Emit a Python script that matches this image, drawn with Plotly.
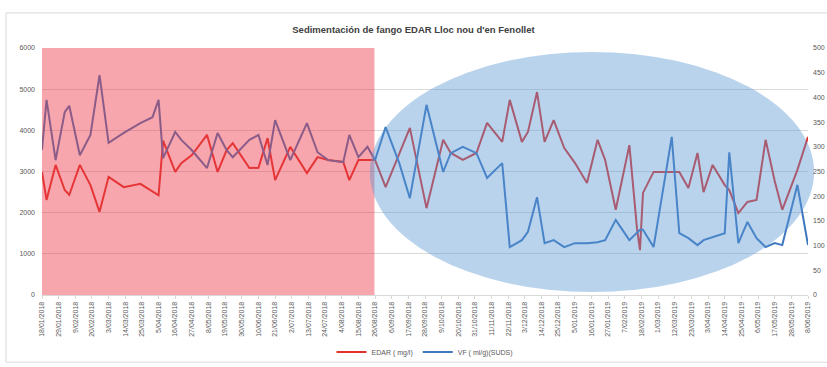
import plotly.graph_objects as go

# Sampling dates and measured series
dates = [
    "2018-01-18", "2018-01-21", "2018-01-27", "2018-02-02", "2018-02-05", "2018-02-12",
    "2018-02-19", "2018-02-25", "2018-03-03", "2018-03-13", "2018-03-24", "2018-04-01",
    "2018-04-05", "2018-04-08", "2018-04-16", "2018-04-20", "2018-04-27", "2018-05-07",
    "2018-05-14", "2018-05-20", "2018-05-24", "2018-06-04", "2018-06-10", "2018-06-16",
    "2018-06-21", "2018-07-01", "2018-07-12", "2018-07-19", "2018-07-26", "2018-08-05",
    "2018-08-09", "2018-08-15", "2018-08-21", "2018-08-26", "2018-09-02", "2018-09-11",
    "2018-09-18", "2018-09-29", "2018-10-10", "2018-10-15", "2018-10-23", "2018-11-01",
    "2018-11-08", "2018-11-18", "2018-11-23", "2018-12-01", "2018-12-05", "2018-12-11",
    "2018-12-16", "2018-12-22", "2018-12-29", "2019-01-05", "2019-01-13", "2019-01-20",
    "2019-01-25", "2019-02-01", "2019-02-10", "2019-02-15", "2019-02-17", "2019-02-19",
    "2019-02-26", "2019-03-10", "2019-03-15", "2019-03-21", "2019-03-27", "2019-03-31",
    "2019-04-06", "2019-04-14", "2019-04-17", "2019-04-23", "2019-04-29", "2019-05-05",
    "2019-05-11", "2019-05-17", "2019-05-22", "2019-06-01", "2019-06-08",
]

edar_mgl = [
    2990, 2310, 3160, 2550, 2430, 3160, 2670, 2020, 2870, 2620, 2700, 2500,
    2420, 3750, 2990, 3200, 3400, 3890, 2990, 3520, 3690, 3085, 3090, 3810,
    2790, 3600, 2960, 3350, 3280, 3230, 2790, 3280, 3280, 3280, 2620, 3450,
    4060, 2110, 3770, 3450, 3280, 3450, 4180, 3720, 4740, 3720, 3960, 4930,
    3720, 4250, 3570, 3210, 2720, 3770, 3280, 2070, 3640, 1630, 1090, 2480,
    2990, 2990, 2990, 2600, 3450, 2500, 3160, 2670, 2550, 1990, 2260, 2310,
    3770, 2770, 2070, 3040, 3840,
]

vf_mlg = [
    294, 395, 273, 370, 383, 283, 324, 445, 308, 328, 348, 360,
    395, 277, 330, 314, 293, 257, 328, 293, 279, 314, 324, 263,
    354, 273, 348, 289, 273, 269, 324, 279, 300, 273, 340, 267,
    196, 385, 249, 287, 300, 287, 237, 267, 97, 111, 128, 198,
    105, 111, 97, 105, 105, 107, 111, 152, 111, 125, 132, 132,
    97, 320, 125, 115, 101, 111, 117, 125, 289, 105, 148, 115,
    97, 105, 101, 223, 101,
]

left_ticks = [0, 1000, 2000, 3000, 4000, 5000, 6000]
right_ticks = [0, 50, 100, 150, 200, 250, 300, 350, 400, 450, 500]

title_text = "Sedimentación de fango EDAR Lloc nou d'en Fenollet"
name_edar = "EDAR ( mg/l)"
name_vf = "VF ( ml/g)(SUDS)"

FONT = "Liberation Sans"
TICK_COLOR = "#595959"
GRID = "#d9d9d9"

fig = go.Figure()
fig.add_trace(go.Scatter(
    x=dates, y=edar_mgl, name=name_edar, mode="lines",
    line=dict(color="#e2322b", width=2), yaxis="y",
))
fig.add_trace(go.Scatter(
    x=dates, y=vf_mlg, name=name_vf, mode="lines",
    line=dict(color="#3f78bf", width=2), yaxis="y2",
))

shapes = [
    # translucent highlight of the first period
    dict(type="rect", xref="x domain", yref="y domain",
         x0=0, x1=0.434, y0=0, y1=1,
         fillcolor="rgb(234,58,72)", opacity=0.45, line=dict(width=0), layer="above"),
    # translucent ellipse over the second period
    dict(type="circle", xref="x domain", yref="y domain",
         x0=0.428, x1=1.008, y0=0.012, y1=0.984,
         fillcolor="rgb(88,150,212)", opacity=0.42, line=dict(width=0), layer="above"),
    # chart frame
    dict(type="rect", xref="paper", yref="paper",
         x0=-0.047, x1=1.03, y0=-0.272, y1=1.142,
         line=dict(color="#d9d9d9", width=1), fillcolor="rgba(0,0,0,0)", layer="below"),
]

fig.update_layout(
    template="none",
    width=827, height=367,
    margin=dict(l=42, r=19, t=48, b=72, autoexpand=False),
    paper_bgcolor="white", plot_bgcolor="white",
    font=dict(family=FONT, color=TICK_COLOR, size=8),
    title=dict(text=title_text, x=0.5, xanchor="center", y=0.918, yanchor="middle",
               font=dict(family=FONT, size=9.5, color="#404040", weight="bold")),
    shapes=shapes,
    showlegend=True,
    legend=dict(orientation="h", x=0.5, xanchor="center", y=-0.231, yanchor="middle",
                font=dict(size=7, color=TICK_COLOR), itemwidth=30,
                bgcolor="rgba(0,0,0,0)"),
    xaxis=dict(
        type="date", range=["2018-01-18", "2019-06-08"],
        tick0="2018-01-18", dtick=11 * 86400000, tickformat="%-d/%m/%Y",
        tickangle=-90, tickfont=dict(size=7, color=TICK_COLOR),
        showgrid=False, showline=True, linecolor=GRID, linewidth=1,
        ticks="outside", ticklen=3, tickcolor=GRID, zeroline=False,
        automargin=False,
    ),
    yaxis=dict(
        range=[0, 6000], tickvals=left_ticks, ticktext=[str(v) for v in left_ticks],
        showgrid=True, gridcolor=GRID, gridwidth=1, zeroline=False,
        showline=False, ticks="", automargin=False,
        tickfont=dict(size=7, color=TICK_COLOR), ticklabelstandoff=6,
    ),
    yaxis2=dict(
        range=[0, 500], tickvals=right_ticks, ticktext=[str(v) for v in right_ticks],
        overlaying="y", side="right", showgrid=False, zeroline=False,
        showline=False, ticks="", automargin=False,
        tickfont=dict(size=7, color=TICK_COLOR), ticklabelstandoff=4,
    ),
)

fig.write_html("out.html")
